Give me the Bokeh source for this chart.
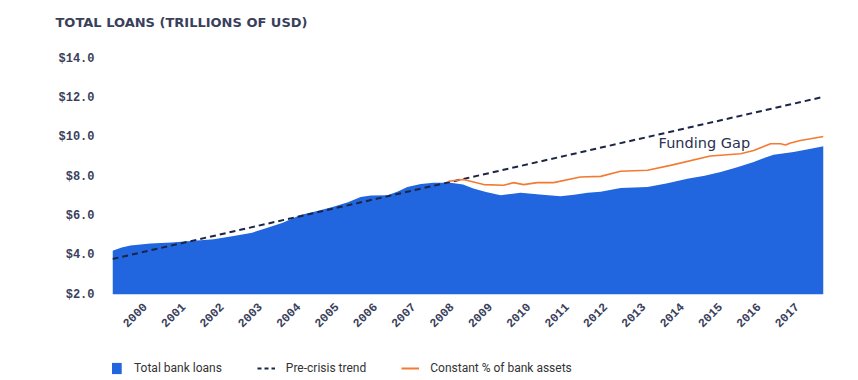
from bokeh.plotting import figure
from bokeh.models import (FixedTicker, PrintfTickFormatter, Legend, LegendItem,
                          CustomJSTickFormatter, Label, Range1d)
from bokeh.layouts import column
from bokeh.embed import file_html
from bokeh.resources import INLINE

# ---- data ----
loan_years = [1999.16, 1999.4, 1999.63, 2000.15, 2000.7, 2001.2, 2001.8, 2002.32, 2002.8,
              2003.2, 2003.6, 2004.06, 2004.5, 2004.92, 2005.3, 2005.63, 2005.9, 2006.33,
              2006.6, 2006.85, 2007.2, 2007.53, 2007.97, 2008.3, 2008.57, 2008.9, 2009.28,
              2009.55, 2009.8, 2010.3, 2010.84, 2011.2, 2011.55, 2011.89, 2012.41, 2013.11,
              2013.6, 2014.15, 2014.6, 2015.02, 2015.45, 2015.88, 2016.15, 2016.4, 2016.92,
              2017.3, 2017.7]
loan_values = [4.23, 4.4, 4.5, 4.6, 4.65, 4.72, 4.82, 4.98, 5.15,
               5.4, 5.65, 6.05, 6.25, 6.47, 6.7, 6.97, 7.04, 7.06,
               7.25, 7.48, 7.63, 7.7, 7.7, 7.6, 7.4, 7.22, 7.06,
               7.12, 7.18, 7.1, 7.01, 7.08, 7.18, 7.23, 7.43, 7.48,
               7.65, 7.9, 8.05, 8.24, 8.48, 8.75, 8.95, 9.12, 9.26,
               9.4, 9.56]

const_years = [2007.92, 2008.31, 2008.84, 2009.36, 2009.62, 2009.88, 2010.24, 2010.66,
               2011.36, 2011.89, 2012.41, 2013.11, 2013.71, 2014.75, 2015.54, 2015.88,
               2016.32, 2016.58, 2016.71, 2016.84, 2017.1, 2017.7]
const_values = [7.77, 7.86, 7.6, 7.57, 7.7, 7.6, 7.7, 7.7,
                7.99, 8.02, 8.28, 8.33, 8.58, 9.06, 9.17, 9.34,
                9.68, 9.68, 9.62, 9.72, 9.85, 10.05]

trend_years = [1999.16, 2017.7]
trend_values = [3.81, 12.07]

year_ticks = list(range(2000, 2018))
value_ticks = [2, 4, 6, 8, 10, 12, 14]
series_names = ["Total bank loans", "Pre-crisis trend", "Constant % of bank assets"]
title_text = "TOTAL LOANS (TRILLIONS OF USD)"

BLUE = "#2166de"
ORANGE = "#f47a32"
NAVY = "#1b2545"
TXT = "#3a3f5c"

p = figure(width=850, height=352, output_backend="svg", toolbar_location=None,
           x_range=(1999.16, 2017.70), y_range=(2, 14.84),
           min_border_left=112, min_border_right=27, min_border_top=41,
           min_border_bottom=58, outline_line_color=None)

p.varea(x=loan_years, y1=2, y2=loan_values, fill_color=BLUE)
p.line(trend_years, trend_values, line_color=NAVY, line_width=2, line_dash="6 4")
p.line(const_years, const_values, line_color=ORANGE, line_width=1.6)

p.add_layout(Label(x=2013.4, y=9.74, text="Funding Gap", text_font="DejaVu Sans",
                   text_font_size="14.5px", text_color="#2b3152",
                   text_baseline="middle", text_align="left"))

p.grid.visible = False

p.yaxis.ticker = FixedTicker(ticks=value_ticks)
p.yaxis.formatter = PrintfTickFormatter(format="$%.1f")
p.xaxis.ticker = FixedTicker(ticks=year_ticks)
p.xaxis.formatter = CustomJSTickFormatter(code="return tick.toFixed(0);")
p.xaxis.major_label_orientation = 0.785398

for ax in (p.xaxis, p.yaxis):
    ax.axis_line_color = None
    ax.major_tick_line_color = None
    ax.minor_tick_line_color = None
    ax.major_tick_out = 0
    ax.major_tick_in = 0
    ax.major_label_text_font = "Liberation Mono"
    ax.major_label_text_font_style = "bold"
    ax.major_label_text_font_size = "12px"
    ax.major_label_text_color = TXT
p.yaxis.major_label_standoff = 18
p.xaxis.major_label_standoff = 10

p.title.text = title_text
p.title.text_font = "DejaVu Sans"
p.title.text_font_style = "bold"
p.title.text_font_size = "13px"
p.title.text_color = TXT
p.title.align = "left"
p.title.offset = -57
p.title.standoff = 25

# legend strip below the chart
lg = figure(width=850, height=28, output_backend="svg", toolbar_location=None,
            x_range=Range1d(0, 1), y_range=Range1d(0, 1),
            x_axis_location=None, y_axis_location=None,
            min_border=0, outline_line_color=None)
lg.grid.visible = False
r1 = lg.varea(x=[5, 6], y1=[5, 5], y2=[6, 6], fill_color=BLUE)
r2 = lg.line([5, 6], [5, 6], line_color=NAVY, line_width=2, line_dash="4 3")
r3 = lg.line([5, 6], [5, 6], line_color=ORANGE, line_width=2)

legend = Legend(items=[LegendItem(label=series_names[0], renderers=[r1]),
                       LegendItem(label=series_names[1], renderers=[r2]),
                       LegendItem(label=series_names[2], renderers=[r3])],
                orientation="horizontal", location=(-7, 5),
                glyph_width=18, glyph_height=14, label_standoff=11, spacing=35,
                padding=0, margin=0, border_line_color=None, background_fill_alpha=0,
                label_text_font="Roboto", label_text_font_size="12px",
                label_text_color="#333333", label_height=14)
lg.add_layout(legend, "center")

open("out.html", "w").write(file_html(column(p, lg, spacing=0), INLINE))
